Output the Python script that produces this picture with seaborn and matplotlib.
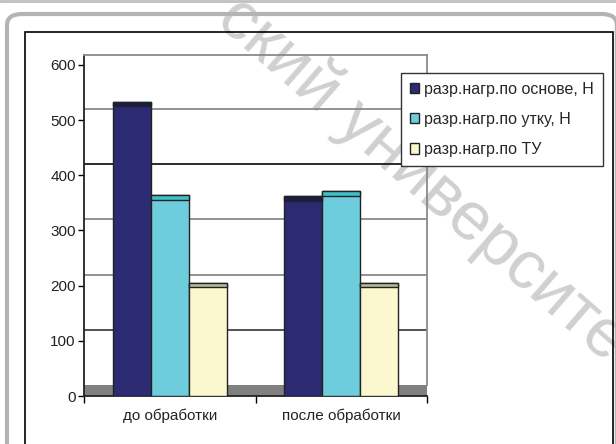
import pandas as pd
import matplotlib
matplotlib.use('Agg')
import matplotlib.pyplot as plt
from matplotlib.patches import Rectangle, FancyBboxPatch
import seaborn as sns

# data (top of each bar, N)
groups = ["до обработки", "после обработки"]
series = ["разр.нагр.по основе, Н", "разр.нагр.по утку, Н", "разр.нагр.по ТУ"]
warp_load = [533, 362]
weft_load = [364, 371]
spec_load = [205, 205]
yticks = [0, 100, 200, 300, 400, 500, 600]

colors = ["#2b2a72", "#6ecddd", "#fbf8cf"]
cap_colors = ["#1c1c48", "#3fbfc8", "#b9b894"]

df = pd.DataFrame({
    "group": groups * 3,
    "series": [s for s in series for _ in groups],
    "value": warp_load + weft_load + spec_load,
})

sns.set_theme(style="white")
plt.rcParams['font.family'] = ['Liberation Sans', 'DejaVu Sans']

fig = plt.figure(figsize=(6.16, 4.44), dpi=100)
W, H = 616, 444

# page decoration: thin grey line, rounded grey frame, black chart frame
fig.add_artist(plt.Line2D([0, 1], [1 - 1 / H, 1 - 1 / H], transform=fig.transFigure, color="#c0c0c0", lw=2))
fig.add_artist(FancyBboxPatch((7 / W, -0.1), 0.99, 1 - 14 / H + 0.1, boxstyle="round,pad=0,rounding_size=0.025",
                              transform=fig.transFigure, fill=False, ec="#b4b4b4", lw=3))
fig.add_artist(Rectangle((25 / W, -0.05), (613 - 25) / W, 1 - 32 / H + 0.05, transform=fig.transFigure,
                         fill=False, ec="black", lw=1.2))

# watermark (runs off the page like in the scan), kept under the axes so the legend hides part of it
fig.text(226 / W, 1 - 8 / H, "ский университет", rotation=-41, rotation_mode="anchor",
         ha="left", va="center", fontsize=49, color="#d0d0d0", zorder=-1)

ax = fig.add_axes([84 / W, 48 / H, (427 - 84) / W, (396 - 55) / H])
ax.patch.set_visible(False)

sns.barplot(data=df, x="group", y="value", hue="series", palette=colors, width=0.667,
            edgecolor="#222222", linewidth=1, saturation=1, ax=ax, zorder=3)

# darker top strip to mimic the 3D top face
cap = 8
for i, p in enumerate(list(ax.patches)[:len(df)]):
    c = cap_colors[i // len(groups)]
    ax.bar(p.get_x() + p.get_width() / 2, cap, bottom=p.get_height() - cap, width=p.get_width(),
           color=c, edgecolor="#222222", linewidth=1, zorder=4)

wall = 20  # back wall offset in data units
ax.set_xlim(-0.5, 1.5)
ax.set_ylim(0, 600 + wall - 2)
ax.axhspan(0, wall, color="#808080", zorder=1, lw=0)
grid_cols = {100: "#444444", 200: "#8a8a8a", 300: "#8a8a8a", 400: "#1a1a1a", 500: "#8a8a8a"}
for v in yticks[1:-1]:
    ax.axhline(v + wall, color=grid_cols[v], lw=1.3, zorder=1)

ax.set_yticks(yticks)
ax.set_xticks([0, 1])
ax.set_xticks([-0.5, 0.5, 1.5], minor=True)
ax.tick_params(axis="y", left=True, length=4, width=1, color="black", pad=2, labelsize=11, labelcolor="#222")
ax.tick_params(axis="x", which="major", length=0, pad=9, labelsize=11, labelcolor="#222")
ax.tick_params(axis="x", which="minor", bottom=True, length=5, width=1, color="black")
ax.set_xlabel("")
ax.set_ylabel("")

for s in ["left", "bottom"]:
    ax.spines[s].set_color("#222222")
    ax.spines[s].set_linewidth(1.3)
for s in ["top", "right"]:
    ax.spines[s].set_color("#8a8a8a")
    ax.spines[s].set_linewidth(1.3)
ax.spines["right"].set_bounds(wall, 600 + wall - 2)

handles, labels = ax.get_legend_handles_labels()
ax.legend(handles[:3], labels[:3], loc="upper left", bbox_to_anchor=(401 / W, 1 - 73 / H),
          bbox_transform=fig.transFigure, fontsize=11.5, frameon=True, fancybox=False,
          edgecolor="#333333", framealpha=1, handlelength=0.6, handleheight=0.6,
          handletextpad=0.3, labelspacing=0.95, borderpad=0.55, borderaxespad=0)
ax.get_legend().get_frame().set_linewidth(1)

fig.savefig("out.png", dpi=100)
